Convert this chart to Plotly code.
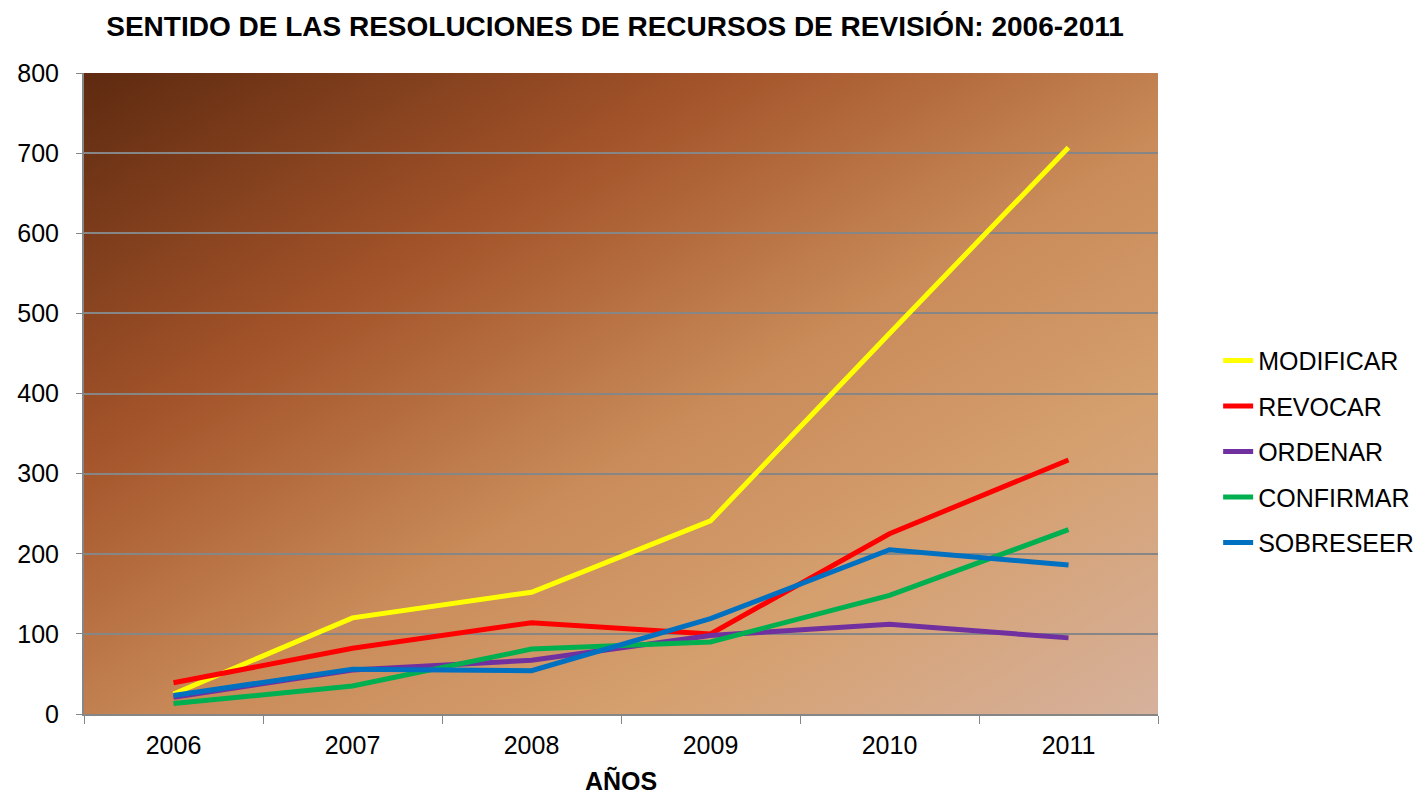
import base64
import plotly.graph_objects as go

# Datos
years = ["2006", "2007", "2008", "2009", "2010", "2011"]
modificar = [25, 120, 152, 241, 475, 707]
revocar = [39, 82, 114, 100, 225, 317]
ordenar = [21, 55, 67, 98, 112, 95]
confirmar = [13, 35, 81, 90, 148, 230]
sobreseer = [23, 56, 54, 119, 205, 186]

series = [
    ("MODIFICAR", modificar, "#FFFF00"),
    ("REVOCAR", revocar, "#FF0000"),
    ("ORDENAR", ordenar, "#7030A0"),
    ("CONFIRMAR", confirmar, "#00B050"),
    ("SOBRESEER", sobreseer, "#0070C0"),
]

# Fondo degradado del área del gráfico (SVG como imagen)
svg = """<svg xmlns='http://www.w3.org/2000/svg' width='100' height='100' preserveAspectRatio='none' viewBox='0 0 100 100'>
<defs><linearGradient id='g' x1='0' y1='0' x2='1' y2='1'>
<stop offset='0' stop-color='#5E2A10'/>
<stop offset='0.3' stop-color='#A4542A'/>
<stop offset='0.55' stop-color='#C98B59'/>
<stop offset='0.75' stop-color='#D59F6E'/>
<stop offset='1' stop-color='#D6B19C'/>
</linearGradient></defs>
<rect x='0' y='0' width='100' height='100' fill='url(#g)'/></svg>"""
bg_src = "data:image/svg+xml;base64," + base64.b64encode(svg.encode()).decode()

fig = go.Figure()
for i, (name, vals, color) in enumerate(series):
    fig.add_trace(go.Scatter(
        x=years, y=vals, name=name, mode="lines",
        line=dict(color=color, width=5),
        legendgroup=str(i),
    ))

font_main = "Arial, Liberation Sans, sans-serif"

# la página tiene 8px de margen, por eso 1420x787
fig.update_layout(
    width=1420, height=787,
    margin=dict(l=76, r=270, t=65, b=81, autoexpand=False),
    paper_bgcolor="white",
    plot_bgcolor="rgba(0,0,0,0)",
    font=dict(family=font_main, size=25, color="black"),
    title=dict(
        text="<b>SENTIDO DE LAS RESOLUCIONES DE RECURSOS DE REVISIÓN: 2006-2011</b>",
        x=0.4275, xanchor="center", y=0.977, yanchor="middle",
        font=dict(size=28, family=font_main, color="black"),
    ),
    legend=dict(
        x=1.056, xanchor="left", y=0.409, yanchor="middle",
        font=dict(size=25), tracegroupgap=10,
        bgcolor="rgba(0,0,0,0)",
    ),
    showlegend=True,
    images=[dict(
        source=bg_src, xref="x domain", yref="y domain",
        x=0, y=1, sizex=1, sizey=1, sizing="stretch",
        xanchor="left", yanchor="top", layer="below",
    )],
)

fig.update_xaxes(
    type="category", tickson="boundaries", automargin=False,
    ticks="outside", ticklen=8, tickcolor="#868686", tickwidth=1,
    showline=True, linecolor="#868686", linewidth=2,
    showgrid=False, mirror=False,
    range=[-0.5, 5.5],
    title=dict(text="<b>AÑOS</b>", font=dict(size=25), standoff=16),
    tickfont=dict(size=25), ticklabelstandoff=8,
)
fig.update_yaxes(
    range=[0, 800], dtick=100, automargin=False,
    ticks="outside", ticklen=6, tickcolor="#868686",
    showline=True, linecolor="#868686", linewidth=2,
    showgrid=True, gridcolor="#868686", gridwidth=2,
    zeroline=False,
    tickfont=dict(size=25), ticklabelstandoff=12,
)

fig.write_html("out.html")
